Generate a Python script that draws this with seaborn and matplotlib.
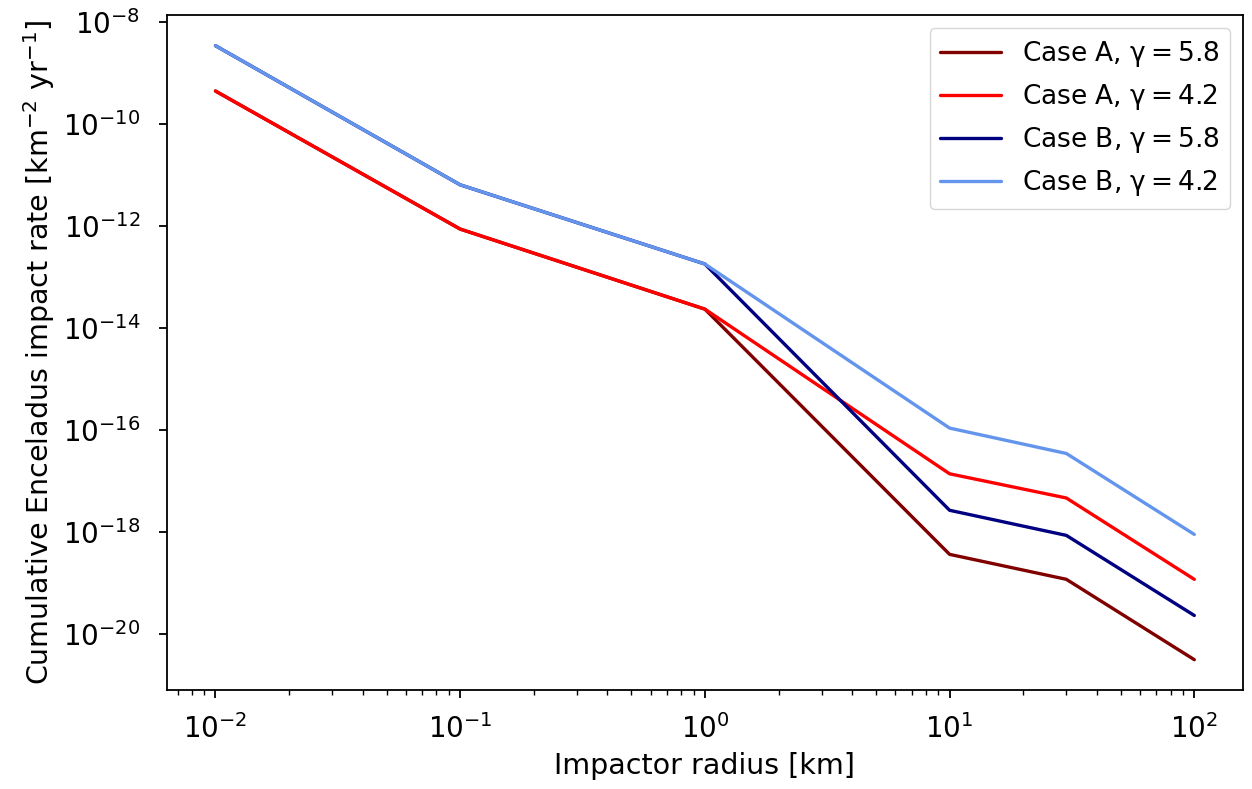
import numpy as np
import pandas as pd
import matplotlib
matplotlib.use("Agg")
import matplotlib.pyplot as plt
import seaborn as sns

radius_km = [0.01, 0.1, 1.0, 10.0, 30.0, 100.0]
case_a_58 = [4.4e-10, 8.7e-13, 2.35e-14, 3.7e-19, 1.2e-19, 3.2e-21]
case_a_42 = [4.4e-10, 8.7e-13, 2.35e-14, 1.4e-17, 4.7e-18, 1.2e-19]
case_b_58 = [3.4e-9, 6.4e-12, 1.8e-13, 2.7e-18, 8.7e-19, 2.35e-20]
case_b_42 = [3.4e-9, 6.4e-12, 1.8e-13, 1.1e-16, 3.5e-17, 9.1e-19]

labels = [r"Case A, $\mathregular{\gamma = 5.8}$",
          r"Case A, $\mathregular{\gamma = 4.2}$",
          r"Case B, $\mathregular{\gamma = 5.8}$",
          r"Case B, $\mathregular{\gamma = 4.2}$"]
colors = ["#800000", "#ff0000", "#000080", "#6495ed"]
series = [case_a_58, case_a_42, case_b_58, case_b_42]

frames = []
for lab, vals in zip(labels, series):
    frames.append(pd.DataFrame({"radius": radius_km, "rate": vals, "case": lab}))
df = pd.concat(frames, ignore_index=True)

sns.set_theme(style="ticks", rc={
    "axes.edgecolor": "black",
    "axes.linewidth": 1.3,
    "xtick.color": "black",
    "ytick.color": "black",
    "text.color": "black",
    "axes.labelcolor": "black",
    "font.size": 18,
})
plt.rcParams["font.family"] = ["DejaVu Sans"]

fig = plt.figure(figsize=(12.52, 7.89), dpi=100)
ax = fig.add_axes([0.133, 0.125, 0.860, 0.856])

sns.lineplot(data=df, x="radius", y="rate", hue="case", hue_order=labels,
             palette=dict(zip(labels, colors)), linewidth=2.4, ax=ax,
             estimator=None, sort=False)

ax.set_xscale("log")
ax.set_yscale("log")
ax.set_yticks([1e-20, 1e-18, 1e-16, 1e-14, 1e-12, 1e-10, 1e-8])
ax.tick_params(axis="both", which="major", labelsize=20, length=6, width=1.3, direction="out")
ax.tick_params(axis="both", which="minor", length=3.5, width=1.0, direction="out")
ax.tick_params(axis="x", which="major", pad=11)
ax.tick_params(axis="y", which="major", pad=13)
ax.set_xlabel("Impactor radius [km]", fontsize=20.5, labelpad=6)
ax.set_ylabel(r"Cumulative Enceladus impact rate [km$^{-2}$ yr$^{-1}$]", fontsize=20.5, labelpad=4)

leg = ax.legend(loc="upper right", fontsize=19, frameon=True, fancybox=True,
                handlelength=2.3)
leg.get_frame().set_edgecolor("#cccccc")
leg.set_title(None)

fig.savefig("out.png", dpi=100)
